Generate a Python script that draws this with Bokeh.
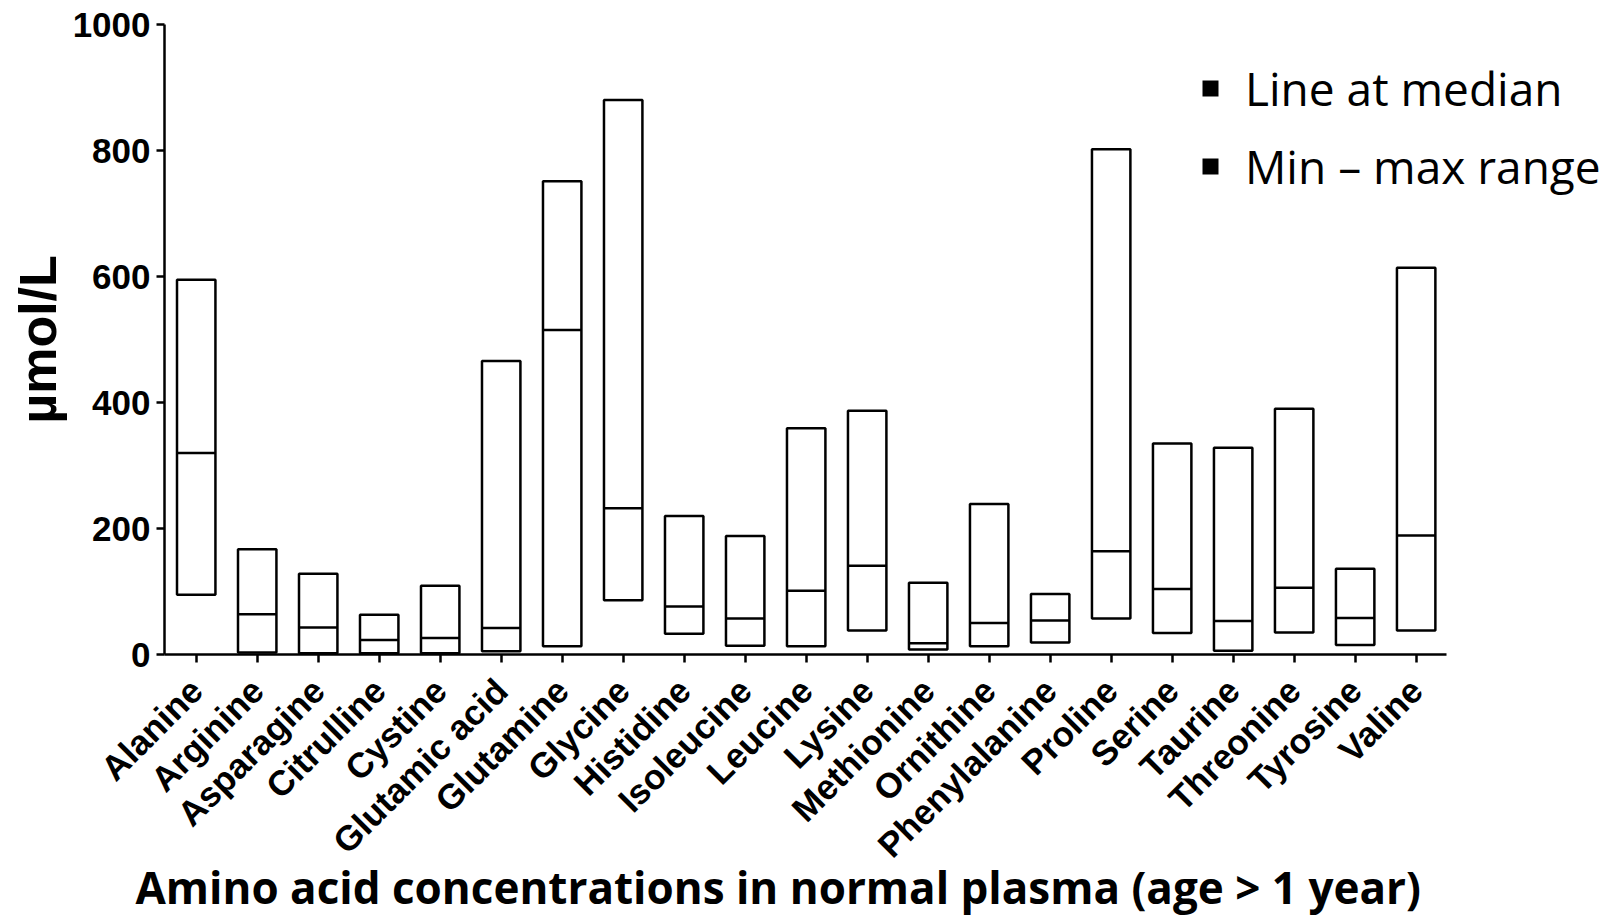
import math
from bokeh.plotting import figure
from bokeh.models import (ColumnDataSource, FixedTicker, Range1d,
                          Legend, LegendItem)
from bokeh.transform import dodge
from bokeh.embed import file_html
from bokeh.resources import INLINE

# ---- data ----
acids = ["Alanine", "Arginine", "Asparagine", "Citrulline", "Cystine",
         "Glutamic acid", "Glutamine", "Glycine", "Histidine", "Isoleucine",
         "Leucine", "Lysine", "Methionine", "Ornithine", "Phenylalanine",
         "Proline", "Serine", "Taurine", "Threonine", "Tyrosine", "Valine"]
min_vals = [95, 3, 2, 2, 2, 5, 13, 86, 33, 14, 13, 38, 8, 13, 19, 57, 34, 6, 35, 15, 38]
median_vals = [320, 64, 43, 23, 26, 42, 515, 232, 76, 57, 101, 141, 18, 50, 54, 164, 104, 53, 106, 58, 189]
max_vals = [595, 167, 128, 63, 109, 466, 751, 880, 220, 188, 359, 387, 114, 239, 96, 802, 335, 328, 390, 136, 614]
y_ticks = [0, 200, 400, 600, 800, 1000]
legend_labels = ["Line at median", "Min \u2013 max range"]
x_title = "Amino acid concentrations in normal plasma (age > 1 year)"

x_pos = list(range(len(acids)))
source = ColumnDataSource(dict(x=x_pos, acid=acids, lo=min_vals,
                               med=median_vals, hi=max_vals))

n = len(acids)
X_START = -0.52
X_END = 23.35   # extra room on the right for the legend text
p = figure(x_range=Range1d(X_START, X_END), y_range=Range1d(0, 1000),
           width=1624, height=919, output_backend="svg", toolbar_location=None,
           min_border_left=164, min_border_right=4, min_border_top=24,
           min_border_bottom=265, title=x_title, title_location="below")
p.outline_line_color = None
p.xgrid.grid_line_color = None
p.ygrid.grid_line_color = None
p.background_fill_color = "white"
p.border_fill_color = "white"

# title used as the x-axis caption (left aligned, shifted like the reference)
p.title.align = "left"
p.title.offset = -29
p.title.vertical_align = "top"
p.title.standoff = -50
p.title.text_font = "Open Sans"
p.title.text_font_style = "bold"
p.title.text_font_size = "44px"
p.title.text_color = "black"

BOX_W = 0.63
p.vbar(x="x", top="hi", bottom="lo", width=BOX_W, source=source,
       fill_color="white", line_color="black", line_width=2.5)
p.segment(x0=dodge("x", -BOX_W / 2), y0="med",
          x1=dodge("x", BOX_W / 2), y1="med",
          source=source, line_color="black", line_width=2.5)

# legend swatches (NaN data: nothing drawn in the plot, only legend glyphs)
nan = float("nan")
r1 = p.quad(left=[nan], right=[nan], top=[nan], bottom=[nan],
            fill_color="black", line_color=None)
r2 = p.quad(left=[nan], right=[nan], top=[nan], bottom=[nan],
            fill_color="black", line_color=None)
legend = Legend(items=[LegendItem(label=legend_labels[0], renderers=[r1]),
                       LegendItem(label=legend_labels[1], renderers=[r2])],
                location=(1036, 457), orientation="vertical",
                glyph_width=20, glyph_height=20, label_standoff=25,
                label_text_font="Open Sans", label_text_font_size="46px",
                label_text_color="black", label_height=50, spacing=16,
                padding=0, margin=0, border_line_color=None,
                background_fill_alpha=0)
p.add_layout(legend)

# y axis
ya = p.yaxis[0]
ya.ticker = FixedTicker(ticks=y_ticks)
ya.minor_tick_line_color = None
ya.major_tick_in = 0
ya.major_tick_out = 8
ya.axis_line_width = 2.5
ya.major_tick_line_width = 2.5
ya.axis_line_color = "black"
ya.major_tick_line_color = "black"
ya.major_label_text_font = "Liberation Sans"
ya.major_label_text_font_style = "bold"
ya.major_label_text_font_size = "35px"
ya.major_label_text_color = "black"
ya.major_label_standoff = 6
ya.axis_label = "\u00b5mol/L"
ya.axis_label_text_font = "Liberation Sans"
ya.axis_label_text_font_style = "bold"
ya.axis_label_text_font_size = "52px"
ya.axis_label_text_color = "black"
ya.axis_label_standoff = 3

# x axis
xa = p.xaxis[0]
xa.ticker = FixedTicker(ticks=x_pos)
xa.major_label_overrides = {i: name for i, name in zip(x_pos, acids)}
xa.bounds = (X_START, n - 0.5)
xa.minor_tick_line_color = None
xa.major_label_orientation = math.pi / 4
xa.major_tick_in = 0
xa.major_tick_out = 8
xa.axis_line_width = 2.5
xa.major_tick_line_width = 2.5
xa.axis_line_color = "black"
xa.major_tick_line_color = "black"
xa.major_label_text_font = "Liberation Sans"
xa.major_label_text_font_style = "bold"
xa.major_label_text_font_size = "35px"
xa.major_label_text_color = "black"
xa.major_label_standoff = 22

open("out.html", "w").write(file_html(p, INLINE))
